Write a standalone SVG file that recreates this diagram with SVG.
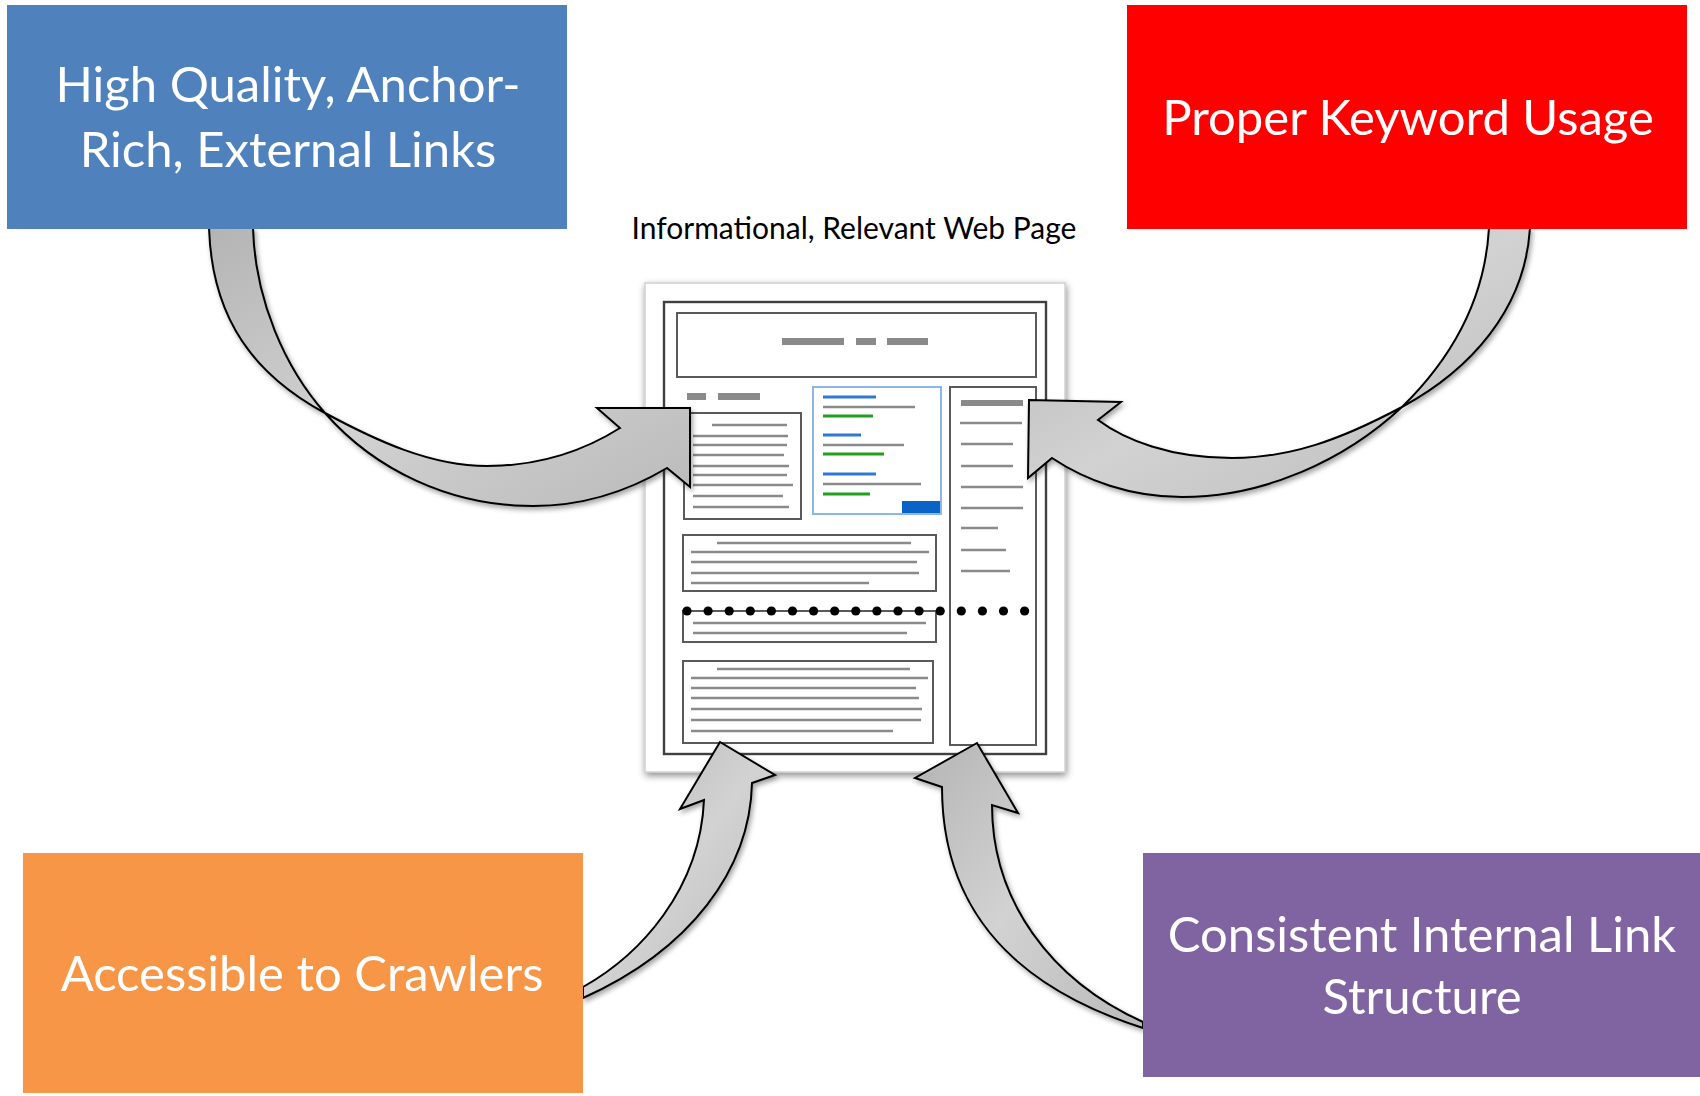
<svg xmlns="http://www.w3.org/2000/svg" width="1700" height="1096" viewBox="0 0 1700 1096">
<style>
.box-text{font-family:Lato,"Open Sans","Liberation Sans",sans-serif;font-size:49px;fill:#fff;text-anchor:middle}
.title{font-family:Lato,"Open Sans","Liberation Sans",sans-serif;font-size:30px;fill:#000;text-anchor:middle}
.arrow{fill:url(#ag);stroke:#000;stroke-width:2;stroke-linejoin:miter;filter:url(#sh)}
.frame{fill:none;stroke:#5a5a5a;stroke-width:2}
.ln{stroke:#8a8a8a;stroke-width:2.6;stroke-linecap:butt}
.bar{fill:#8a8a8a}
.bl{stroke:#2f78d4;stroke-width:3}
.gr{stroke:#1fa01f;stroke-width:3}
</style>
<defs>
<linearGradient id="ag" x1="0" y1="0" x2="1" y2="1">
<stop offset="0" stop-color="#b4b4b4"/>
<stop offset="0.5" stop-color="#d2d2d2"/>
<stop offset="1" stop-color="#bababa"/>
</linearGradient>
<filter id="sh" x="-10%" y="-10%" width="125%" height="125%">
<feDropShadow dx="2" dy="3" stdDeviation="2.5" flood-color="#000" flood-opacity="0.35"/>
</filter>
<filter id="ps" x="-10%" y="-10%" width="125%" height="125%">
<feDropShadow dx="1" dy="3" stdDeviation="3.5" flood-color="#000" flood-opacity="0.45"/>
</filter>
</defs>
<rect width="1700" height="1096" fill="#fff"/>

<g id="web-page">
<text class="title" x="854" y="239">Informational, Relevant Web Page</text>
<rect x="645" y="283" width="420" height="489" fill="#fff" stroke="#d0d0d0" stroke-width="1.5" filter="url(#ps)"/>
<rect x="664" y="302" width="382" height="452" fill="none" stroke="#404040" stroke-width="2.4"/>
<rect class="frame" x="677" y="313" width="359" height="64"/>
<rect class="bar" x="782" y="338" width="62" height="7"/>
<rect class="bar" x="856" y="338" width="20" height="7"/>
<rect class="bar" x="887" y="338" width="41" height="7"/>
<rect class="bar" x="687" y="393" width="19" height="7"/>
<rect class="bar" x="718" y="393" width="42" height="7"/>
<rect class="frame" x="684" y="413" width="117" height="106"/>
<g class="ln">
<line x1="712" y1="425" x2="787" y2="425"/>
<line x1="693" y1="436" x2="788" y2="436"/>
<line x1="693" y1="445" x2="787" y2="445"/>
<line x1="693" y1="455" x2="784" y2="455"/>
<line x1="693" y1="466" x2="789" y2="466"/>
<line x1="693" y1="475" x2="787" y2="475"/>
<line x1="693" y1="485" x2="793" y2="485"/>
<line x1="693" y1="496" x2="783" y2="496"/>
<line x1="693" y1="507" x2="789" y2="507"/>
</g>
<rect x="813" y="387" width="128" height="127" fill="none" stroke="#8db6e8" stroke-width="2"/>
<line class="bl" x1="823" y1="397" x2="876" y2="397"/>
<line class="ln" x1="823" y1="407" x2="915" y2="407"/>
<line class="gr" x1="823" y1="416" x2="873" y2="416"/>
<line class="bl" x1="823" y1="435" x2="861" y2="435"/>
<line class="ln" x1="823" y1="445" x2="904" y2="445"/>
<line class="gr" x1="823" y1="454" x2="884" y2="454"/>
<line class="bl" x1="823" y1="474" x2="876" y2="474"/>
<line class="ln" x1="823" y1="484" x2="921" y2="484"/>
<line class="gr" x1="823" y1="494" x2="870" y2="494"/>
<rect x="902" y="501" width="38" height="12" fill="#0a64c8"/>
<rect class="frame" x="950" y="387" width="86" height="358"/>
<rect class="bar" x="961" y="400" width="62" height="6"/>
<g class="ln">
<line x1="960" y1="423" x2="1022" y2="423"/>
<line x1="961" y1="444" x2="1013" y2="444"/>
<line x1="961" y1="466" x2="1013" y2="466"/>
<line x1="961" y1="487" x2="1023" y2="487"/>
<line x1="961" y1="508" x2="1023" y2="508"/>
<line x1="961" y1="528" x2="998" y2="528"/>
<line x1="961" y1="550" x2="1006" y2="550"/>
<line x1="961" y1="571" x2="1010" y2="571"/>
</g>
<rect class="frame" x="683" y="535" width="253" height="56"/>
<g class="ln">
<line x1="717" y1="543" x2="911" y2="543"/>
<line x1="691" y1="552" x2="929" y2="552"/>
<line x1="691" y1="562" x2="917" y2="562"/>
<line x1="691" y1="573" x2="919" y2="573"/>
<line x1="691" y1="583" x2="869" y2="583"/>
</g>
<rect class="frame" x="683" y="611" width="253" height="31"/>
<g class="ln">
<line x1="693" y1="623" x2="926" y2="623"/>
<line x1="693" y1="633" x2="907" y2="633"/>
</g>
<g fill="#000">
<circle cx="687" cy="611" r="4.6"/><circle cx="708.1" cy="611" r="4.6"/><circle cx="729.2" cy="611" r="4.6"/><circle cx="750.3" cy="611" r="4.6"/><circle cx="771.4" cy="611" r="4.6"/><circle cx="792.5" cy="611" r="4.6"/><circle cx="813.6" cy="611" r="4.6"/><circle cx="834.7" cy="611" r="4.6"/><circle cx="855.8" cy="611" r="4.6"/><circle cx="876.9" cy="611" r="4.6"/><circle cx="898" cy="611" r="4.6"/><circle cx="919.1" cy="611" r="4.6"/><circle cx="940.2" cy="611" r="4.6"/><circle cx="961.3" cy="611" r="4.6"/><circle cx="982.4" cy="611" r="4.6"/><circle cx="1003.5" cy="611" r="4.6"/><circle cx="1024.6" cy="611" r="4.6"/>
</g>
<rect class="frame" x="683" y="661" width="250" height="82"/>
<g class="ln">
<line x1="717" y1="669" x2="910" y2="669"/>
<line x1="691" y1="678" x2="928" y2="678"/>
<line x1="691" y1="688" x2="916" y2="688"/>
<line x1="691" y1="698" x2="919" y2="698"/>
<line x1="691" y1="709" x2="922" y2="709"/>
<line x1="691" y1="720" x2="921" y2="720"/>
<line x1="691" y1="731" x2="893" y2="731"/>
</g>
</g>

<g id="connectors">
<path class="arrow" d="M209,228 C212,320 255,375 325,413 C375,440 430,466 487,466 C540,466 585,450 620,428 L597,408 L690,408 L690,487 L667,468 C630,490 585,506 533,506 C450,506 375,470 325,413 C285,368 255,300 253,228 Z"/>
<path class="arrow" d="M1530,228 C1525,310 1470,370 1402,407 C1340,440 1290,458 1232,458 C1170,458 1125,440 1098,420 L1121,402 L1029,400 L1028,478 L1052,458 C1085,480 1130,497 1182,497 C1265,497 1345,460 1402,407 C1450,360 1485,300 1489,228 Z"/>
<path class="arrow" d="M583,987 C640,955 700,890 704,800 L680,809 L720,742 L775,775 L752,783 C750,870 690,950 583,998 Z"/>
<path class="arrow" d="M1143,1028 C1040,995 942,930 942,787 L915,778 L977,743 L1018,813 L992,805 C992,900 1050,980 1143,1022 Z"/>
</g>

<g id="node-external-links">
<rect x="7" y="5" width="560" height="224" fill="#4f81bd"/>
<text class="box-text" x="288" y="102">High Quality, Anchor-</text>
<text class="box-text" x="288" y="167">Rich, External Links</text>
</g>
<g id="node-keyword-usage">
<rect x="1127" y="5" width="560" height="224" fill="#ff0000"/>
<text class="box-text" x="1408" y="135">Proper Keyword Usage</text>
</g>
<g id="node-crawlers">
<rect x="23" y="853" width="560" height="240" fill="#f79646"/>
<text class="box-text" x="302" y="991">Accessible to Crawlers</text>
</g>
<g id="node-internal-links">
<rect x="1143" y="853" width="557" height="224" fill="#8064a2"/>
<text class="box-text" x="1422" y="952">Consistent Internal Link</text>
<text class="box-text" x="1422" y="1014">Structure</text>
</g>
</svg>
